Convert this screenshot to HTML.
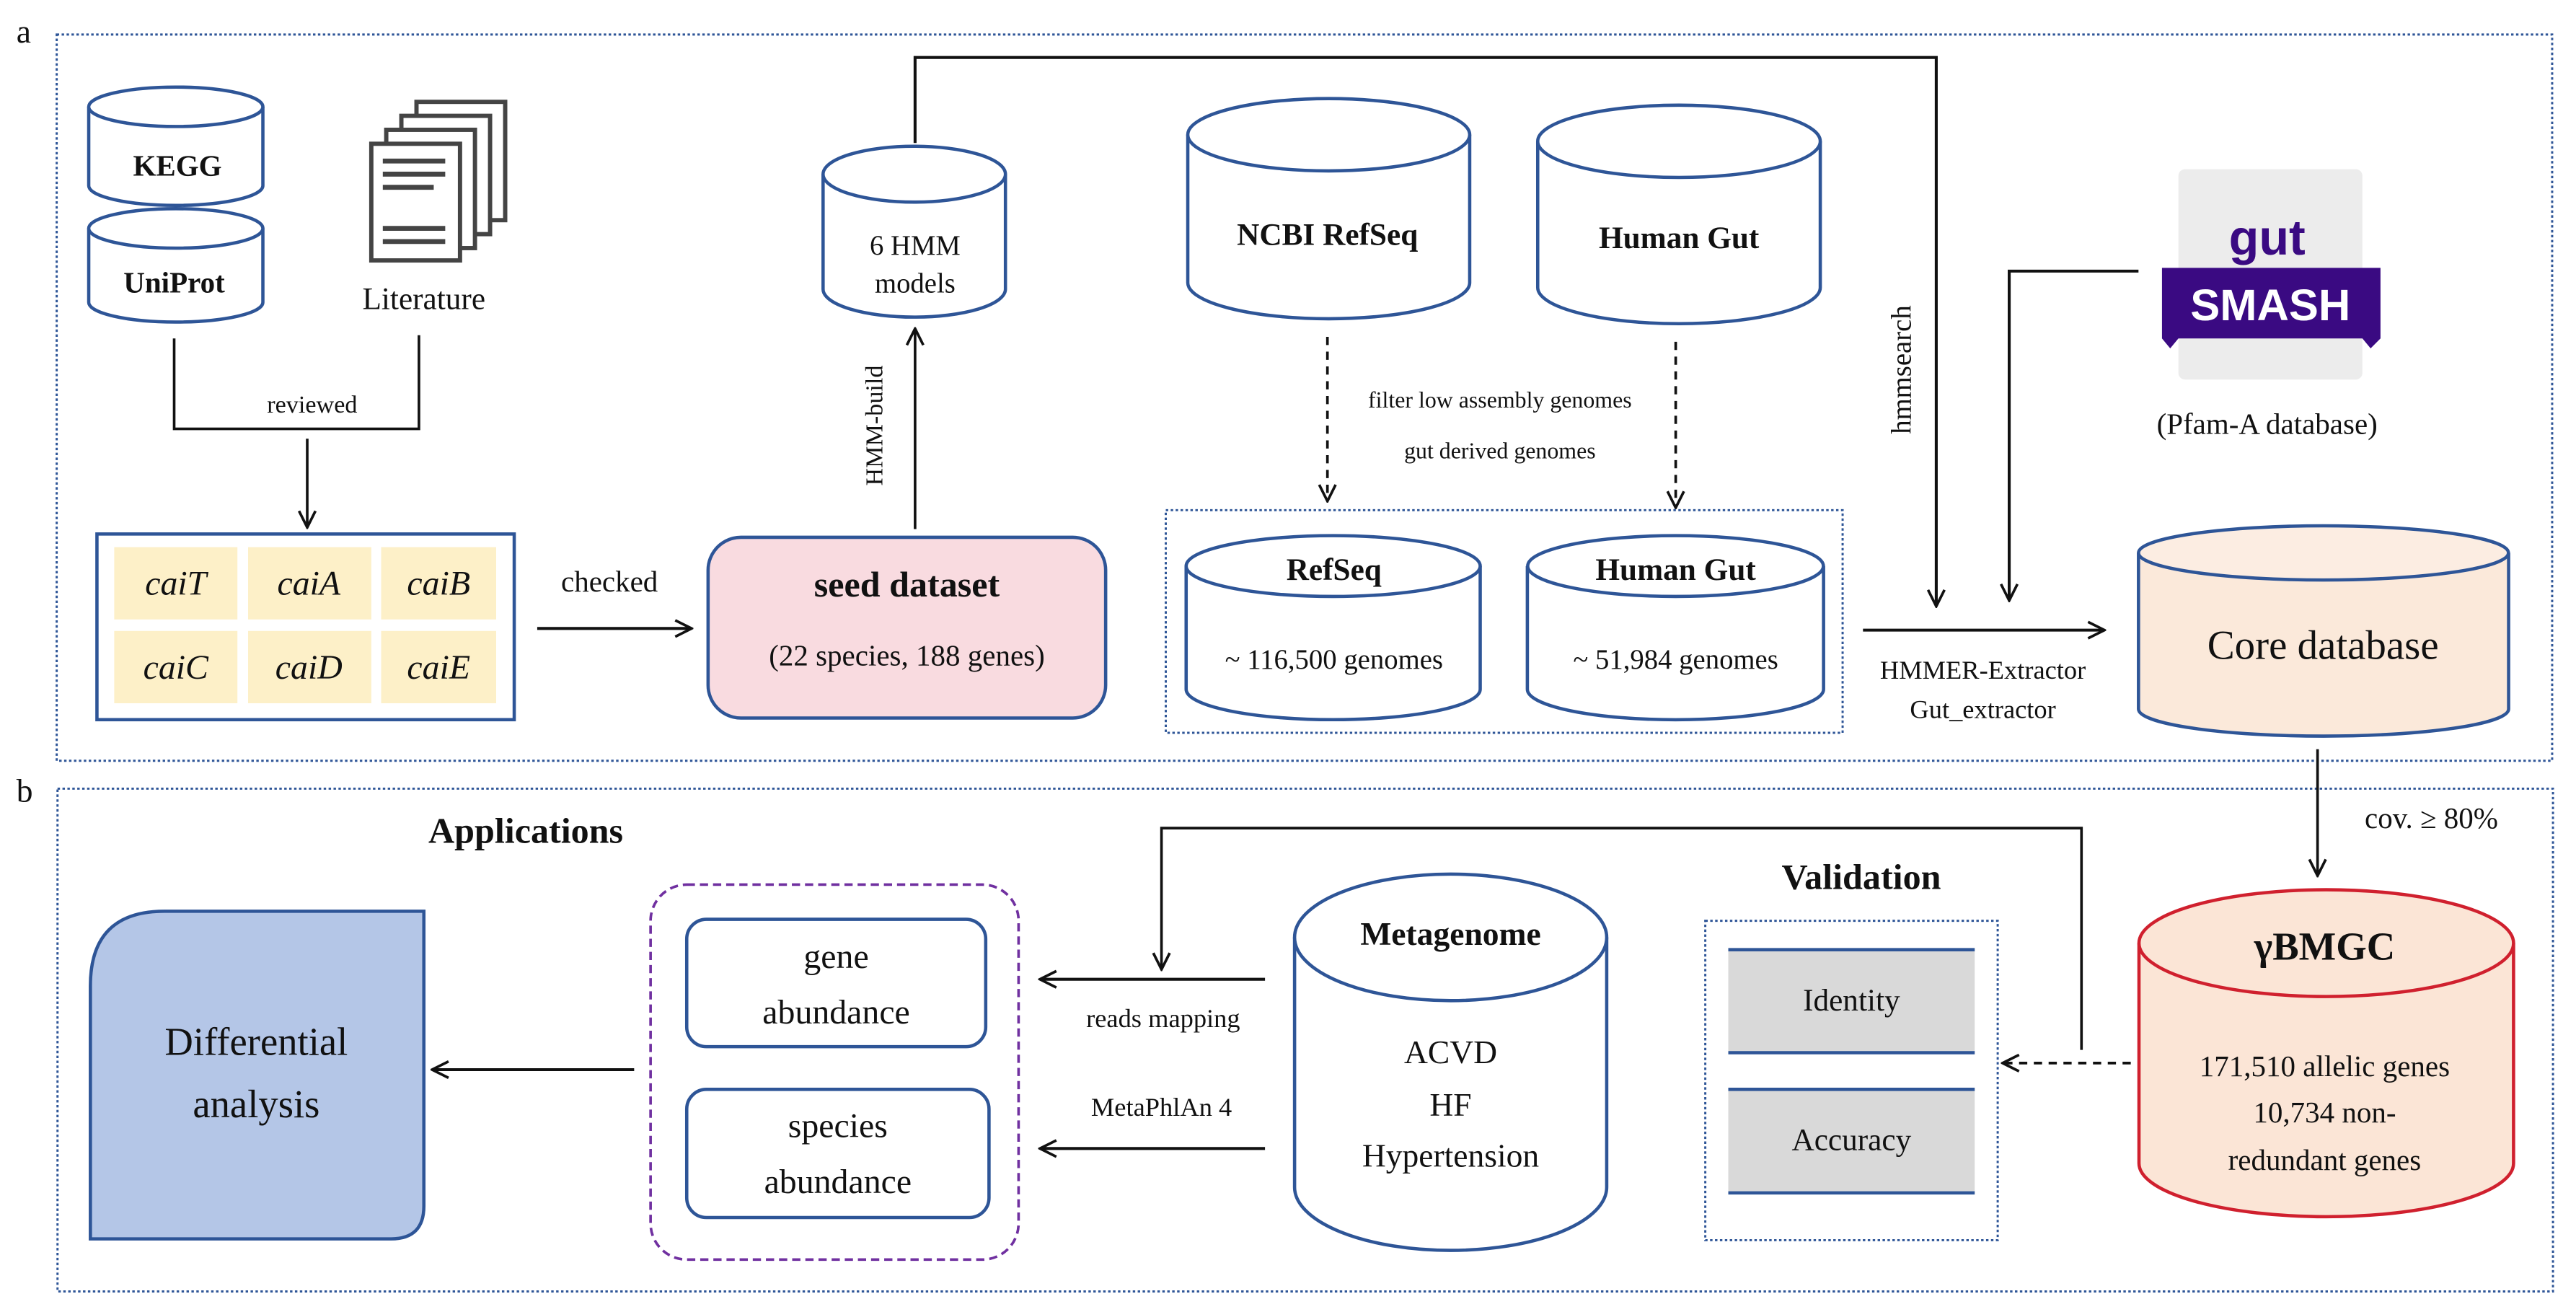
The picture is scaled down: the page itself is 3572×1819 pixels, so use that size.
<!DOCTYPE html>
<html><head><meta charset="utf-8"><style>
html,body{margin:0;padding:0;background:#fff;}
svg{display:block;}
text{font-family:"Liberation Serif",serif;fill:#111;}
.b{font-weight:bold;}
</style></head><body>
<svg width="3572" height="1819" viewBox="0 0 1568 798.5" xmlns="http://www.w3.org/2000/svg">
<defs>
<marker id="ar" viewBox="0 0 12 12" refX="11" refY="6" markerWidth="12" markerHeight="12" markerUnits="userSpaceOnUse" orient="auto">
<polyline points="1,1 11,6 1,11" fill="none" stroke="#111" stroke-width="1.6"/>
</marker>
</defs>
<g stroke-linecap="butt">
<!-- panels -->
<text x="10" y="26" font-size="20">a</text>
<rect x="34.5" y="21" width="1519" height="442" fill="none" stroke="#2e5597" stroke-width="1.3" stroke-dasharray="1.5 1.5"/>
<text x="10" y="488" font-size="20">b</text>
<rect x="35" y="480" width="1519" height="306" fill="none" stroke="#2e5597" stroke-width="1.3" stroke-dasharray="1.5 1.5"/>

<!-- KEGG -->
<path d="M54 65 L54 113 A53 12 0 0 0 160 113 L160 65" fill="#fff" stroke="#2e5597" stroke-width="2"/>
<ellipse cx="107" cy="65" rx="53" ry="12" fill="#fff" stroke="#2e5597" stroke-width="2"/>
<text x="108" y="107" font-size="18" class="b" text-anchor="middle">KEGG</text>
<!-- UniProt -->
<path d="M54 139 L54 184 A53 12 0 0 0 160 184 L160 139" fill="#fff" stroke="#2e5597" stroke-width="2"/>
<ellipse cx="107" cy="139" rx="53" ry="12" fill="#fff" stroke="#2e5597" stroke-width="2"/>
<text x="106" y="178" font-size="18" class="b" text-anchor="middle">UniProt</text>

<!-- Literature icon -->
<g fill="#fff" stroke="#444" stroke-width="2.6">
<rect x="253.5" y="62" width="54" height="72"/>
<rect x="244.3" y="70.5" width="54" height="72"/>
<rect x="235.1" y="79" width="54" height="72"/>
<rect x="226" y="87.5" width="54" height="71"/>
</g>
<g stroke="#444" stroke-width="3">
<line x1="233" y1="98" x2="271" y2="98"/>
<line x1="233" y1="106" x2="271" y2="106"/>
<line x1="233" y1="114" x2="264" y2="114"/>
<line x1="233" y1="139" x2="271" y2="139"/>
<line x1="233" y1="147" x2="271" y2="147"/>
</g>
<text x="258" y="188" font-size="19" text-anchor="middle">Literature</text>

<!-- reviewed -->
<polyline points="106,206 106,261 255,261 255,204" fill="none" stroke="#111" stroke-width="1.6"/>
<text x="190" y="251" font-size="15" text-anchor="middle">reviewed</text>
<line x1="187" y1="267" x2="187" y2="321" stroke="#111" stroke-width="1.6" marker-end="url(#ar)"/>

<!-- cai box -->
<rect x="59" y="325" width="254" height="113" fill="#fff" stroke="#2e5597" stroke-width="2"/>
<g fill="#fdf0c8">
<rect x="69.5" y="333" width="75" height="44"/><rect x="151" y="333" width="75" height="44"/><rect x="232" y="333" width="70" height="44"/>
<rect x="69.5" y="384" width="75" height="44"/><rect x="151" y="384" width="75" height="44"/><rect x="232" y="384" width="70" height="44"/>
</g>
<g font-size="21" font-style="italic" text-anchor="middle">
<text x="107" y="362">caiT</text><text x="188" y="362">caiA</text><text x="267" y="362">caiB</text>
<text x="107" y="413">caiC</text><text x="188" y="413">caiD</text><text x="267" y="413">caiE</text>
</g>

<!-- checked -->
<line x1="327" y1="382.5" x2="421" y2="382.5" stroke="#111" stroke-width="1.8" marker-end="url(#ar)"/>
<text x="371" y="360" font-size="18" text-anchor="middle">checked</text>

<!-- seed dataset -->
<rect x="431" y="327" width="242" height="110" rx="20" fill="#f9dbe0" stroke="#2e5597" stroke-width="2"/>
<text x="552" y="363" font-size="22" class="b" text-anchor="middle">seed dataset</text>
<text x="552" y="405" font-size="18" text-anchor="middle">(22 species, 188 genes)</text>

<!-- HMM-build -->
<line x1="557" y1="322" x2="557" y2="200" stroke="#111" stroke-width="1.6" marker-end="url(#ar)"/>
<text transform="translate(537,259) rotate(-90)" font-size="15" text-anchor="middle">HMM-build</text>

<!-- 6 HMM models -->
<path d="M501 106 L501 176 A55.5 17 0 0 0 612 176 L612 106" fill="#fff" stroke="#2e5597" stroke-width="2"/>
<ellipse cx="556.5" cy="106" rx="55.5" ry="17" fill="#fff" stroke="#2e5597" stroke-width="2"/>
<text x="557" y="155" font-size="17" text-anchor="middle">6 HMM</text>
<text x="557" y="178" font-size="17" text-anchor="middle">models</text>

<!-- hmmsearch line -->
<polyline points="557,87 557,35 1178.6,35 1178.6,369" fill="none" stroke="#111" stroke-width="1.8" marker-end="url(#ar)"/>
<text transform="translate(1163,225) rotate(-90)" font-size="17" text-anchor="middle">hmmsearch</text>

<!-- NCBI RefSeq -->
<path d="M723 82 L723 172 A85.8 22 0 0 0 894.6 172 L894.6 82" fill="#fff" stroke="#2e5597" stroke-width="2"/>
<ellipse cx="808.8" cy="82" rx="85.8" ry="22" fill="#fff" stroke="#2e5597" stroke-width="2"/>
<text x="808" y="149" font-size="19" class="b" text-anchor="middle">NCBI RefSeq</text>
<!-- Human Gut -->
<path d="M936 86 L936 175 A86 22 0 0 0 1108 175 L1108 86" fill="#fff" stroke="#2e5597" stroke-width="2"/>
<ellipse cx="1022" cy="86" rx="86" ry="22" fill="#fff" stroke="#2e5597" stroke-width="2"/>
<text x="1022" y="151" font-size="19" class="b" text-anchor="middle">Human Gut</text>

<!-- dashed arrows -->
<line x1="808" y1="205" x2="808" y2="305" stroke="#111" stroke-width="1.6" stroke-dasharray="5 4" marker-end="url(#ar)"/>
<line x1="1020" y1="208" x2="1020" y2="309" stroke="#111" stroke-width="1.6" stroke-dasharray="5 4" marker-end="url(#ar)"/>
<text x="913" y="248" font-size="14" text-anchor="middle">filter low assembly genomes</text>
<text x="913" y="279" font-size="14" text-anchor="middle">gut derived genomes</text>

<!-- inner dotted -->
<rect x="709.6" y="310.5" width="412" height="135.5" fill="none" stroke="#2e5597" stroke-width="1.3" stroke-dasharray="1.5 1.5"/>
<path d="M722 344.5 L722 419.5 A89.5 18.5 0 0 0 901 419.5 L901 344.5" fill="#fff" stroke="#2e5597" stroke-width="2"/>
<ellipse cx="811.5" cy="344.5" rx="89.5" ry="18.5" fill="#fff" stroke="#2e5597" stroke-width="2"/>
<text x="812" y="353" font-size="19" class="b" text-anchor="middle">RefSeq</text>
<text x="812" y="407" font-size="17" text-anchor="middle">~ 116,500 genomes</text>
<path d="M929.7 344.5 L929.7 419.5 A90 18.5 0 0 0 1110 419.5 L1110 344.5" fill="#fff" stroke="#2e5597" stroke-width="2"/>
<ellipse cx="1019.9" cy="344.5" rx="90" ry="18.5" fill="#fff" stroke="#2e5597" stroke-width="2"/>
<text x="1020" y="353" font-size="19" class="b" text-anchor="middle">Human Gut</text>
<text x="1020" y="407" font-size="17" text-anchor="middle">~ 51,984 genomes</text>

<!-- HMMER arrow -->
<line x1="1134" y1="383.5" x2="1281" y2="383.5" stroke="#111" stroke-width="1.8" marker-end="url(#ar)"/>
<text x="1207" y="413" font-size="16" text-anchor="middle">HMMER-Extractor</text>
<text x="1207" y="437" font-size="16" text-anchor="middle">Gut_extractor</text>

<!-- gutSMASH -->
<polyline points="1301.7,165 1223,165 1223,365.5" fill="none" stroke="#111" stroke-width="1.8" marker-end="url(#ar)"/>
<rect x="1326" y="103" width="112" height="128" rx="4" fill="#ececec"/>
<polygon points="1316,163 1449,163 1449,206 1443,212 1438,206 1326,206 1321,212 1316,206" fill="#3a0a82"/>
<text x="1380" y="155" font-size="30" text-anchor="middle" style="font-family:'Liberation Sans',sans-serif;fill:#3a0a82;font-weight:bold">gut</text>
<text x="1382" y="195" font-size="27" text-anchor="middle" style="font-family:'Liberation Sans',sans-serif;fill:#fff;font-weight:bold">SMASH</text>
<text x="1380" y="264" font-size="18" text-anchor="middle">(Pfam-A database)</text>

<!-- Core database -->
<path d="M1301.7 336.5 L1301.7 431.5 A112.6 16.5 0 0 0 1527 431.5 L1527 336.5" fill="#fbe9da" stroke="#2e5597" stroke-width="2"/>
<ellipse cx="1414.3" cy="336.5" rx="112.6" ry="16.5" fill="#fcede2" stroke="#2e5597" stroke-width="2"/>
<text x="1414" y="401" font-size="25" text-anchor="middle">Core database</text>

<!-- cov arrow -->
<line x1="1410.7" y1="456" x2="1410.7" y2="533" stroke="#111" stroke-width="1.6" marker-end="url(#ar)"/>
<text x="1480" y="504" font-size="18" text-anchor="middle">cov. ≥ 80%</text>

<!-- γBMGC -->
<path d="M1302 574 L1302 708 A114 32.5 0 0 0 1530 708 L1530 574" fill="#fbe5d6" stroke="#d0202e" stroke-width="2"/>
<ellipse cx="1416" cy="574" rx="114" ry="32.5" fill="#fbe5d6" stroke="#d0202e" stroke-width="2"/>
<text x="1415" y="584" font-size="24" class="b" text-anchor="middle">γBMGC</text>
<text x="1415" y="655" font-size="18" text-anchor="middle">171,510 allelic genes</text>
<text x="1415" y="683" font-size="18" text-anchor="middle">10,734 non-</text>
<text x="1415" y="712" font-size="18" text-anchor="middle">redundant genes</text>

<!-- Validation -->
<text x="1133" y="541" font-size="22" class="b" text-anchor="middle">Validation</text>
<rect x="1038" y="560.4" width="178" height="194.4" fill="none" stroke="#2e5597" stroke-width="1.3" stroke-dasharray="1.5 1.5"/>
<rect x="1052" y="578" width="150" height="62.7" fill="#d9d9d9"/>
<line x1="1052" y1="578" x2="1202" y2="578" stroke="#2e5597" stroke-width="2"/>
<line x1="1052" y1="640.7" x2="1202" y2="640.7" stroke="#2e5597" stroke-width="2"/>
<rect x="1052" y="663" width="150" height="63" fill="#d9d9d9"/>
<line x1="1052" y1="663" x2="1202" y2="663" stroke="#2e5597" stroke-width="2"/>
<line x1="1052" y1="726" x2="1202" y2="726" stroke="#2e5597" stroke-width="2"/>
<text x="1127" y="615" font-size="19" text-anchor="middle">Identity</text>
<text x="1127" y="700" font-size="19" text-anchor="middle">Accuracy</text>

<!-- dashed to validation -->
<line x1="1297" y1="647" x2="1219" y2="647" stroke="#111" stroke-width="1.6" stroke-dasharray="5 4" marker-end="url(#ar)"/>
<!-- reads mapping feedback line -->
<polyline points="1267,639 1267,504 707,504 707,590" fill="none" stroke="#111" stroke-width="1.6" marker-end="url(#ar)"/>

<!-- Metagenome -->
<path d="M788 570.5 L788 722.5 A95 38.5 0 0 0 978 722.5 L978 570.5" fill="#fff" stroke="#2e5597" stroke-width="2"/>
<ellipse cx="883" cy="570.5" rx="95" ry="38.5" fill="#fff" stroke="#2e5597" stroke-width="2"/>
<text x="883" y="575" font-size="20" class="b" text-anchor="middle">Metagenome</text>
<text x="883" y="647" font-size="20" text-anchor="middle">ACVD</text>
<text x="883" y="679" font-size="20" text-anchor="middle">HF</text>
<text x="883" y="710" font-size="20" text-anchor="middle">Hypertension</text>

<!-- arrows to abundance -->
<line x1="770" y1="596" x2="633" y2="596" stroke="#111" stroke-width="1.8" marker-end="url(#ar)"/>
<text x="708" y="625" font-size="16" text-anchor="middle">reads mapping</text>
<text x="707" y="679" font-size="16" text-anchor="middle">MetaPhlAn 4</text>
<line x1="770" y1="699" x2="633" y2="699" stroke="#111" stroke-width="1.8" marker-end="url(#ar)"/>

<!-- purple group -->
<rect x="396" y="538.4" width="224" height="228.2" rx="22" fill="none" stroke="#7030a0" stroke-width="1.6" stroke-dasharray="5 3"/>
<rect x="418" y="559.5" width="182" height="77.5" rx="12" fill="#fff" stroke="#2e5597" stroke-width="2"/>
<text x="509" y="589" font-size="21" text-anchor="middle">gene</text>
<text x="509" y="623" font-size="21" text-anchor="middle">abundance</text>
<rect x="418" y="663" width="184" height="78" rx="12" fill="#fff" stroke="#2e5597" stroke-width="2"/>
<text x="510" y="692" font-size="21" text-anchor="middle">species</text>
<text x="510" y="726" font-size="21" text-anchor="middle">abundance</text>

<line x1="386" y1="651" x2="263" y2="651" stroke="#111" stroke-width="1.8" marker-end="url(#ar)"/>

<!-- Differential analysis -->
<path d="M55 754 L55 600 Q55 554.6 100 554.6 L258 554.6 L258 734 Q258 754 238 754 Z" fill="#b4c6e7" stroke="#2e5597" stroke-width="2"/>
<text x="156" y="642" font-size="24" text-anchor="middle">Differential</text>
<text x="156" y="680" font-size="24" text-anchor="middle">analysis</text>

<text x="320" y="513" font-size="22" class="b" text-anchor="middle">Applications</text>
</g>
</svg>
</body></html>
